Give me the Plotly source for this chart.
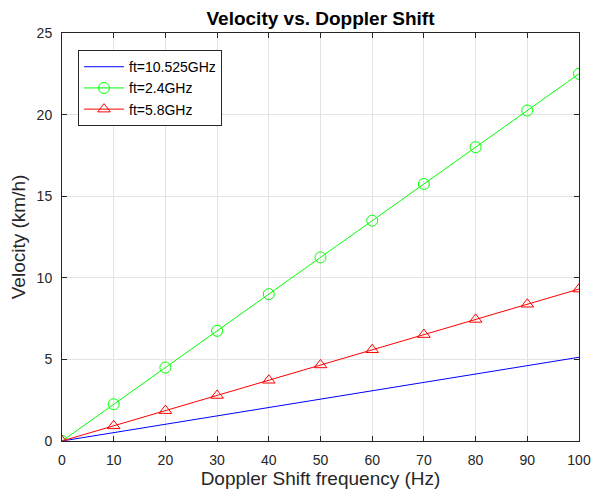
import plotly.graph_objects as go

freq_hz = [0, 10, 20, 30, 40, 50, 60, 70, 80, 90, 100]
vel_10525 = [0, 0.51, 1.03, 1.54, 2.05, 2.57, 3.08, 3.59, 4.10, 4.62, 5.13]
vel_24 = [0, 2.25, 4.5, 6.75, 9.0, 11.25, 13.5, 15.75, 18.0, 20.25, 22.5]
vel_58 = [0, 0.93, 1.86, 2.79, 3.72, 4.66, 5.59, 6.52, 7.45, 8.38, 9.31]
x_ticks = [0, 10, 20, 30, 40, 50, 60, 70, 80, 90, 100]
y_ticks = [0, 5, 10, 15, 20, 25]

font_family = "Liberation Sans, Arial, sans-serif"
text_color = "#262626"

# The page body has an 8px default margin, so the figure is sized to fit inside it.
W, H = 593, 489

fig = go.Figure()
fig.add_trace(go.Scatter(x=freq_hz, y=vel_10525, mode="lines", name="ft=10.525GHz",
                         line=dict(color="#0000ff", width=1)))
fig.add_trace(go.Scatter(x=freq_hz, y=vel_24, mode="lines+markers", name="ft=2.4GHz",
                         line=dict(color="#00ff00", width=1),
                         marker=dict(symbol="circle-open", size=11, color="#00ff00",
                                     line=dict(width=1, color="#00ff00"))))
fig.add_trace(go.Scatter(x=freq_hz, y=vel_58, mode="lines+markers", name="ft=5.8GHz",
                         line=dict(color="#ff0000", width=1),
                         marker=dict(symbol="triangle-up-open", size=11, color="#ff0000",
                                     line=dict(width=1, color="#ff0000"))))

axis_common = dict(
    showgrid=True, gridcolor="#e3e3e3", gridwidth=1,
    showline=True, linecolor="#262626", linewidth=1, mirror="ticks",
    ticks="inside", ticklen=5, tickcolor="#262626",
    zeroline=False, automargin=False,
    tickfont=dict(family=font_family, size=14, color=text_color),
)

fig.update_layout(
    width=W, height=H,
    margin=dict(l=54, r=22, t=25, b=56),
    paper_bgcolor="white", plot_bgcolor="white",
    title=dict(text="<b>Velocity vs. Doppler Shift</b>",
               x=(54 + (W - 22)) / 2 / W, xanchor="center",
               y=1 - 10 / H, yanchor="middle",
               font=dict(family=font_family, size=19, color="black")),
    xaxis=dict(range=[0, 100], tickvals=x_ticks, ticklabelstandoff=6,
               title=dict(text="Doppler Shift frequency (Hz)", standoff=4,
                          font=dict(family=font_family, size=19, color=text_color)),
               **axis_common),
    yaxis=dict(range=[0, 25], tickvals=y_ticks, ticklabelstandoff=6,
               title=dict(text="Velocity (km/h)", standoff=6,
                          font=dict(family=font_family, size=19, color=text_color)),
               **axis_common),
    legend=dict(x=0.031, y=0.958, xanchor="left", yanchor="top",
                bgcolor="white", bordercolor="#262626", borderwidth=1,
                font=dict(family=font_family, size=14, color="black"),
                tracegroupgap=0, itemwidth=40),
    showlegend=True,
)

fig.write_html("out.html")
